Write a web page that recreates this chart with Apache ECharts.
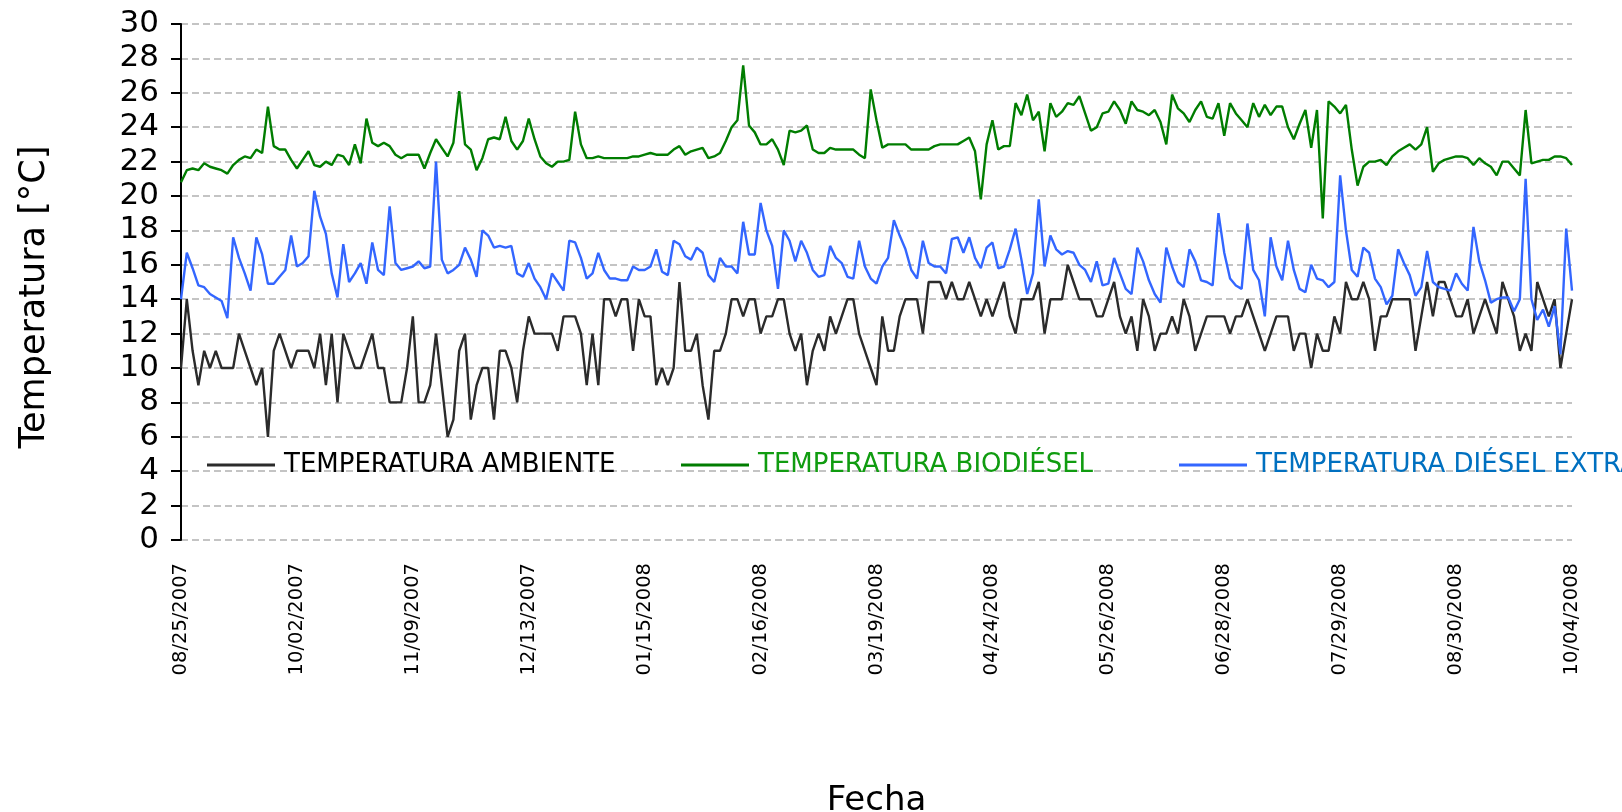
<!DOCTYPE html>
<html>
<head>
<meta charset="utf-8">
<title>Temperatura</title>
<script src="https://cdn.jsdelivr.net/npm/echarts@6/dist/echarts.min.js"></script>
<style>
  html, body { margin: 0; padding: 0; background: #fff; }
  #chart { width: 1622px; height: 812px; }
</style>
</head>
<body>
<div id="chart"></div>
<script>
// fechas que se muestran en el eje (una cada 20 lecturas)
var tickLabels = ['08/25/2007', '10/02/2007', '11/09/2007', '12/13/2007', '01/15/2008', '02/16/2008',
  '03/19/2008', '04/24/2008', '05/26/2008', '06/28/2008', '07/29/2008', '08/30/2008', '10/04/2008'];

// temperatura ambiente [°C]
var ambiente = [
  10, 14, 11, 9, 11, 10, 11, 10, 10, 10, 12, 11, 10, 9, 10, 6, 11, 12, 11, 10,
  11, 11, 11, 10, 12, 9, 12, 8, 12, 11, 10, 10, 11, 12, 10, 10, 8, 8, 8, 10,
  13, 8, 8, 9, 12, 9, 6, 7, 11, 12, 7, 9, 10, 10, 7, 11, 11, 10, 8, 11,
  13, 12, 12, 12, 12, 11, 13, 13, 13, 12, 9, 12, 9, 14, 14, 13, 14, 14, 11, 14,
  13, 13, 9, 10, 9, 10, 15, 11, 11, 12, 9, 7, 11, 11, 12, 14, 14, 13, 14, 14,
  12, 13, 13, 14, 14, 12, 11, 12, 9, 11, 12, 11, 13, 12, 13, 14, 14, 12, 11, 10,
  9, 13, 11, 11, 13, 14, 14, 14, 12, 15, 15, 15, 14, 15, 14, 14, 15, 14, 13, 14,
  13, 14, 15, 13, 12, 14, 14, 14, 15, 12, 14, 14, 14, 16, 15, 14, 14, 14, 13, 13,
  14, 15, 13, 12, 13, 11, 14, 13, 11, 12, 12, 13, 12, 14, 13, 11, 12, 13, 13, 13,
  13, 12, 13, 13, 14, 13, 12, 11, 12, 13, 13, 13, 11, 12, 12, 10, 12, 11, 11, 13,
  12, 15, 14, 14, 15, 14, 11, 13, 13, 14, 14, 14, 14, 11, 13, 15, 13, 15, 15, 14,
  13, 13, 14, 12, 13, 14, 13, 12, 15, 14, 13, 11, 12, 11, 15, 14, 13, 14, 10, 12,
  14
];

// temperatura biodiésel [°C]
var biodiesel = [
  20.8, 21.5, 21.6, 21.5, 21.9, 21.7, 21.6, 21.5, 21.3, 21.8, 22.1, 22.3, 22.2, 22.7, 22.5, 25.2, 22.9, 22.7, 22.7, 22.1,
  21.6, 22.1, 22.6, 21.8, 21.7, 22.0, 21.8, 22.4, 22.3, 21.8, 23.0, 21.9, 24.5, 23.1, 22.9, 23.1, 22.9, 22.4, 22.2, 22.4,
  22.4, 22.4, 21.6, 22.5, 23.3, 22.8, 22.3, 23.1, 26.1, 23.0, 22.7, 21.5, 22.2, 23.3, 23.4, 23.3, 24.6, 23.2, 22.7, 23.2,
  24.5, 23.3, 22.3, 21.9, 21.7, 22.0, 22.0, 22.1, 24.9, 23.0, 22.2, 22.2, 22.3, 22.2, 22.2, 22.2, 22.2, 22.2, 22.3, 22.3,
  22.4, 22.5, 22.4, 22.4, 22.4, 22.7, 22.9, 22.4, 22.6, 22.7, 22.8, 22.2, 22.3, 22.5, 23.2, 24.0, 24.4, 27.6, 24.1, 23.7,
  23.0, 23.0, 23.3, 22.7, 21.8, 23.8, 23.7, 23.8, 24.1, 22.7, 22.5, 22.5, 22.8, 22.7, 22.7, 22.7, 22.7, 22.4, 22.2, 26.2,
  24.4, 22.8, 23.0, 23.0, 23.0, 23.0, 22.7, 22.7, 22.7, 22.7, 22.9, 23.0, 23.0, 23.0, 23.0, 23.2, 23.4, 22.6, 19.8, 23.0,
  24.4, 22.7, 22.9, 22.9, 25.4, 24.7, 25.9, 24.4, 24.9, 22.6, 25.4, 24.6, 24.9, 25.4, 25.3, 25.8, 24.8, 23.8, 24.0, 24.8,
  24.9, 25.5, 25.0, 24.2, 25.5, 25.0, 24.9, 24.7, 25.0, 24.3, 23.0, 25.9, 25.1, 24.8, 24.3, 25.0, 25.5, 24.6, 24.5, 25.4,
  23.5, 25.4, 24.8, 24.4, 24.0, 25.4, 24.6, 25.3, 24.7, 25.2, 25.2, 24.0, 23.3, 24.2, 25.0, 22.8, 25.0, 18.7, 25.5, 25.2,
  24.8, 25.3, 22.7, 20.6, 21.7, 22.0, 22.0, 22.1, 21.8, 22.3, 22.6, 22.8, 23.0, 22.7, 23.0, 24.0, 21.4, 21.9, 22.1, 22.2,
  22.3, 22.3, 22.2, 21.8, 22.2, 21.9, 21.7, 21.2, 22.0, 22.0, 21.6, 21.2, 25.0, 21.9, 22.0, 22.1, 22.1, 22.3, 22.3, 22.2,
  21.8
];

// temperatura diésel extra [°C]
var dieselExtra = [
  14.0, 16.7, 15.8, 14.8, 14.7, 14.3, 14.1, 13.9, 12.9, 17.6, 16.4, 15.5, 14.5, 17.6, 16.6, 14.9, 14.9, 15.3, 15.7, 17.7,
  15.9, 16.1, 16.5, 20.3, 18.8, 17.8, 15.5, 14.1, 17.2, 15.0, 15.5, 16.1, 14.9, 17.3, 15.7, 15.4, 19.4, 16.1, 15.7, 15.8,
  15.9, 16.2, 15.8, 15.9, 22.0, 16.3, 15.5, 15.7, 16.0, 17.0, 16.3, 15.3, 18.0, 17.7, 17.0, 17.1, 17.0, 17.1, 15.5, 15.3,
  16.1, 15.2, 14.7, 14.0, 15.5, 15.0, 14.5, 17.4, 17.3, 16.4, 15.2, 15.5, 16.7, 15.7, 15.2, 15.2, 15.1, 15.1, 15.9, 15.7,
  15.7, 15.9, 16.9, 15.6, 15.4, 17.4, 17.2, 16.5, 16.3, 17.0, 16.7, 15.4, 15.0, 16.4, 15.9, 15.9, 15.5, 18.5, 16.6, 16.6,
  19.6, 18.0, 17.1, 14.6, 18.0, 17.4, 16.2, 17.4, 16.7, 15.7, 15.3, 15.4, 17.1, 16.4, 16.1, 15.3, 15.2, 17.4, 15.9, 15.2,
  14.9, 15.9, 16.4, 18.6, 17.7, 16.9, 15.7, 15.2, 17.4, 16.1, 15.9, 15.9, 15.5, 17.5, 17.6, 16.7, 17.6, 16.4, 15.8, 17.0,
  17.3, 15.8, 15.9, 16.9, 18.1, 16.3, 14.3, 15.5, 19.8, 15.9, 17.7, 16.9, 16.6, 16.8, 16.7, 16.0, 15.7, 15.0, 16.2, 14.8,
  14.9, 16.4, 15.5, 14.6, 14.3, 17.0, 16.2, 15.1, 14.3, 13.8, 17.0, 15.9, 15.0, 14.7, 16.9, 16.2, 15.1, 15.0, 14.8, 19.0,
  16.7, 15.2, 14.8, 14.6, 18.4, 15.7, 15.1, 13.0, 17.6, 15.9, 15.1, 17.4, 15.7, 14.6, 14.4, 16.0, 15.2, 15.1, 14.7, 15.0,
  21.2, 18.0, 15.7, 15.3, 17.0, 16.7, 15.2, 14.7, 13.7, 14.2, 16.9, 16.1, 15.4, 14.2, 14.7, 16.8, 15.0, 14.7, 14.6, 14.5,
  15.5, 14.9, 14.5, 18.2, 16.2, 15.1, 13.8, 14.0, 14.1, 14.1, 13.3, 14.0, 21.0, 14.0, 12.8, 13.4, 12.4, 13.6, 10.8, 18.1,
  14.5
];

var seriesNames = ['TEMPERATURA AMBIENTE', 'TEMPERATURA BIODIÉSEL', 'TEMPERATURA DIÉSEL EXTRA'];
var lineColors = ['#2b2b2b', '#007d00', '#3366ff'];
var textColors = ['#000000', '#109c10', '#0070c0'];

var labelStep = 20;
// categorias: fecha en cada marca, el resto solo ocupan su lugar
var categories = ambiente.map(function (v, i) {
  return i % labelStep === 0 ? tickLabels[i / labelStep] : 'p' + i;
});

var font = 'DejaVu Sans';
var chart = echarts.init(document.getElementById('chart'), null, { renderer: 'canvas' });

// una leyenda por serie, para colocarlas como en el original
var legendLeft = [202, 676, 1174];
var legends = seriesNames.map(function (name, i) {
  return {
    left: legendLeft[i],
    top: 447,
    icon: 'rect',
    itemWidth: 68,
    itemHeight: 3,
    textStyle: { fontFamily: font, fontSize: 26, color: textColors[i], padding: [0, 0, 0, 4] },
    data: [name]
  };
});

var series = [ambiente, biodiesel, dieselExtra].map(function (values, i) {
  return {
    name: seriesNames[i],
    type: 'line',
    data: values,
    symbol: 'none',
    color: lineColors[i],
    lineStyle: { width: 2.4, color: lineColors[i] }
  };
});

chart.setOption({
  animation: false,
  backgroundColor: '#ffffff',
  grid: { left: 181, right: 50, top: 24, bottom: 272, outerBoundsMode: 'none' },
  legend: legends,
  // titulo del eje y, algo por debajo del centro como en el original
  graphic: [{
    type: 'text',
    x: 35,
    y: 297,
    rotation: Math.PI / 2,
    style: {
      text: 'Temperatura [°C]',
      fontFamily: font,
      fontSize: 35,
      fill: '#000',
      align: 'center',
      verticalAlign: 'middle'
    }
  }],
  xAxis: {
    type: 'category',
    data: categories,
    boundaryGap: false,
    name: 'Fecha',
    nameLocation: 'middle',
    nameGap: 244,
    nameTextStyle: { fontFamily: font, fontSize: 34, color: '#000' },
    axisLine: { show: false },
    axisTick: { show: false },
    axisLabel: {
      interval: labelStep - 1,
      rotate: 90,
      margin: 23,
      fontFamily: font,
      fontSize: 19.5,
      color: '#000'
    },
    splitLine: { show: false }
  },
  yAxis: {
    type: 'value',
    min: 0,
    max: 30,
    interval: 2,
    axisLine: { show: true, lineStyle: { color: '#000', width: 2 } },
    axisTick: { show: true, length: 10, lineStyle: { color: '#000', width: 2 } },
    axisLabel: { margin: 22, fontFamily: font, fontSize: 31, color: '#000' },
    splitLine: { show: true, lineStyle: { color: '#c4c4c4', width: 2, type: [7, 4] } }
  },
  series: series
});
</script>
</body>
</html>
